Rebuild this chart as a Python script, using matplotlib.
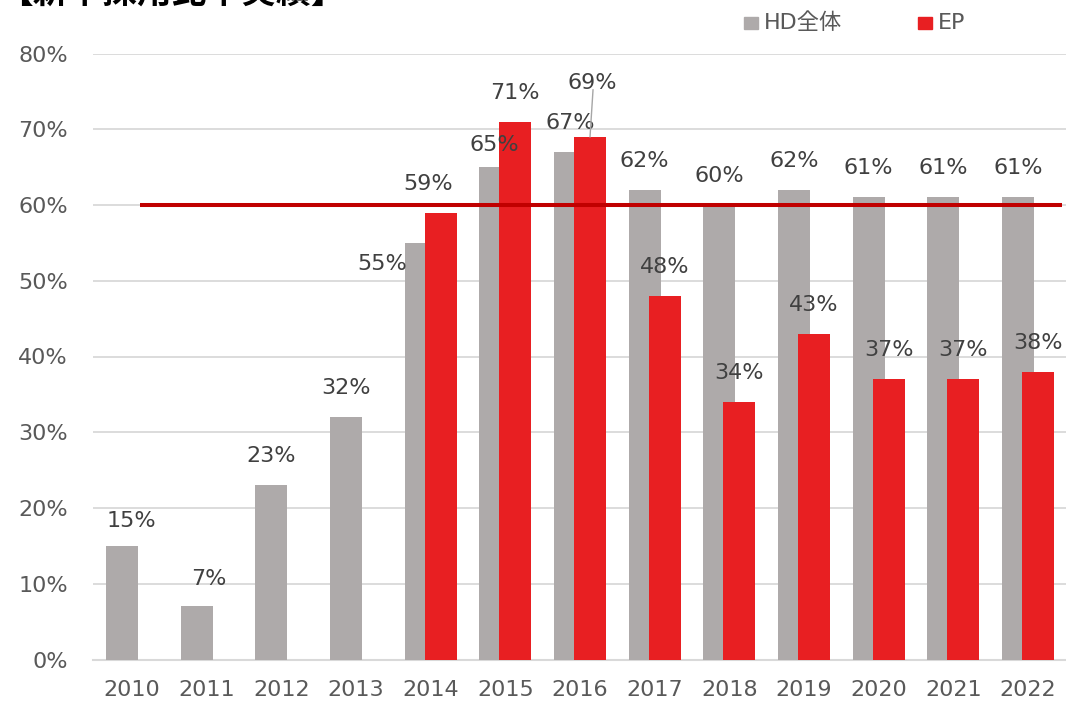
#!/usr/bin/env python
"""Bar chart: HD全体 vs EP ratio by year, with 60% target line."""

import matplotlib.pyplot as plt
import numpy as np
from matplotlib.patches import Rectangle

plt.rcParams["font.family"] = ["DejaVu Sans", "Noto Sans CJK JP"]

YEARS = ["2010", "2011", "2012", "2013", "2014", "2015", "2016",
         "2017", "2018", "2019", "2020", "2021", "2022"]
HD_TOTAL = [15, 7, 23, 32, 55, 65, 67, 62, 60, 62, 61, 61, 61]
EP = [None, None, None, None, 59, 71, 69, 48, 34, 43, 37, 37, 38]
TARGET = 60
TITLE = "【新卒採用比率実績】"
LEGEND_LABELS = ["HD全体", "EP"]

GRAY = "#AEAAAA"
RED = "#E81F22"
LINE_RED = "#C00000"
GRID = "#D9D9D9"
TICK_COLOR = "#595959"
LABEL_COLOR = "#404040"

W, H = 1066, 705
PX = 74.67  # pixels per category

# manual nudges for labels that were moved in the original (pixels: dx, dy up)
GRAY_NUDGE = {0: (9, -4), 1: (12, -2), 4: (-38, -50), 5: (-1, -7)}
RED_NUDGE = {4: (-13, 0), 6: (2, 25)}


def fx(px):
    return px / W


def fy(py):
    return 1 - py / H


fig = plt.figure(figsize=(W / 100, H / 100), dpi=100)
ax = fig.add_axes([fx(93), fy(659.5), fx(973), (659.5 - 53.5) / H])

x = np.arange(len(YEARS))
off = 10 / PX
bw = 32 / PX
ax.bar(x - off, HD_TOTAL, width=bw, color=GRAY, zorder=2)
ep_idx = [i for i, v in enumerate(EP) if v is not None]
ep_vals = [EP[i] for i in ep_idx]
ax.bar(np.array(ep_idx) + off, ep_vals, width=bw, color=RED, zorder=3)

ax.plot([8 / PX, 12.46], [TARGET, TARGET], color=LINE_RED, lw=2.9, zorder=4,
        solid_capstyle="butt")

ax.set_xlim(-39 / PX, -39 / PX + 973 / PX)
ax.set_ylim(0, 80)
ax.set_yticks(np.arange(0, 81, 10))
ax.set_yticklabels(["{}%".format(v) for v in range(0, 81, 10)])
ax.set_xticks(x)
ax.set_xticklabels(YEARS)
ax.tick_params(axis="y", length=0, pad=18, labelsize=16, labelcolor=TICK_COLOR)
ax.tick_params(axis="x", length=0, pad=14.5, labelsize=16, labelcolor=TICK_COLOR)
ax.grid(True, axis="y", color=GRID, lw=1.3, zorder=0)
ax.set_axisbelow(True)
for side in ["left", "right", "top"]:
    ax.spines[side].set_visible(False)
ax.spines["bottom"].set_color(GRID)
ax.spines["bottom"].set_linewidth(1.5)
ax.spines["bottom"].set_zorder(1)

pt = 1 / 1.389
for i, v in enumerate(HD_TOTAL):
    dx, dy = GRAY_NUDGE.get(i, (0, 0))
    ax.annotate("{}%".format(v), (i - off, v), xytext=(dx * pt, (29 + dy) * pt),
                textcoords="offset points", ha="center", va="center",
                fontsize=16, color=LABEL_COLOR, zorder=5)
for i in ep_idx:
    v = EP[i]
    dx, dy = RED_NUDGE.get(i, (0, 0))
    ax.annotate("{}%".format(v), (i + off, v), xytext=(dx * pt, (29 + dy) * pt),
                textcoords="offset points", ha="center", va="center",
                fontsize=16, color=LABEL_COLOR, zorder=5)

# leader line for the moved 2016 EP label
ax.annotate("", xy=(6 + off, EP[6]), xytext=(6 + off + 3 / PX, EP[6]),
            xycoords="data", textcoords="data")
ax.plot([6 + off + 3 / PX, 6 + off], [EP[6] + 47 / 7.575, EP[6]],
        color="#A6A6A6", lw=1.0, zorder=5)

# legend drawn by hand to match the original placement
for (x0, color, label) in [(744, GRAY, LEGEND_LABELS[0]), (918, RED, LEGEND_LABELS[1])]:
    fig.add_artist(Rectangle((fx(x0), fy(29)), fx(13.5), 12 / H,
                             transform=fig.transFigure, color=color))
    fig.text(fx(x0 + 20), fy(23), label, fontsize=16, color=TICK_COLOR,
             ha="left", va="center")

fig.text(fx(-2), fy(3.5), TITLE, fontsize=25, fontweight="bold",
         color="black", ha="left", va="baseline",
         family=["Noto Sans CJK JP", "DejaVu Sans"])

fig.savefig("out.png", dpi=100)
